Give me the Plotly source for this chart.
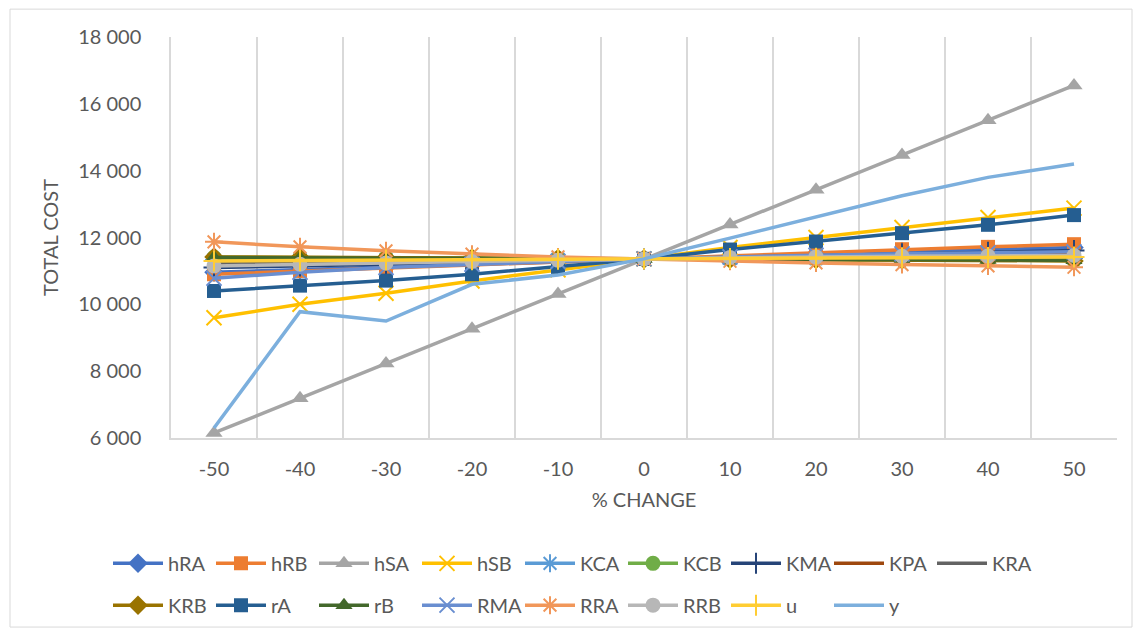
import plotly.graph_objects as go

# Sensitivity of total cost to a percentage change in each parameter
pct_change = [-50, -40, -30, -20, -10, 0, 10, 20, 30, 40, 50]

hRA = [10960, 11040, 11120, 11200, 11280, 11360, 11440, 11510, 11580, 11640, 11700]
hRB = [10900, 11000, 11100, 11180, 11270, 11360, 11460, 11560, 11650, 11720, 11800]
hSA = [6150, 7190, 8230, 9270, 10310, 11360, 12390, 13430, 14470, 15510, 16550]
hSB = [9600, 10000, 10330, 10700, 11030, 11360, 11700, 12000, 12300, 12600, 12880]
KCA = [11330, 11335, 11340, 11350, 11355, 11360, 11365, 11370, 11375, 11380, 11390]
KCB = [11410, 11400, 11390, 11380, 11370, 11360, 11350, 11340, 11330, 11320, 11310]
KMA = [11100, 11150, 11200, 11260, 11310, 11360, 11410, 11460, 11510, 11560, 11610]
KPA = [11200, 11230, 11270, 11300, 11330, 11360, 11390, 11420, 11450, 11480, 11520]
KRA = [11250, 11270, 11290, 11320, 11340, 11360, 11380, 11400, 11420, 11430, 11450]
KRB = [11420, 11410, 11400, 11385, 11370, 11360, 11350, 11340, 11325, 11315, 11300]
rA = [10400, 10560, 10710, 10900, 11120, 11360, 11640, 11880, 12130, 12380, 12670]
rB = [11400, 11390, 11385, 11375, 11365, 11360, 11355, 11345, 11340, 11330, 11320]
RMA = [10780, 10960, 11100, 11200, 11280, 11360, 11420, 11470, 11510, 11540, 11570]
RRA = [11870, 11720, 11600, 11500, 11420, 11360, 11290, 11240, 11190, 11150, 11110]
RRB = [11150, 11200, 11240, 11280, 11320, 11360, 11400, 11420, 11440, 11450, 11460]
u = [11300, 11315, 11325, 11335, 11350, 11360, 11370, 11380, 11395, 11405, 11420]
y = [6300, 9780, 9500, 10600, 10880, 11360, 11980, 12620, 13250, 13800, 14200]

y_ticks = [6000, 8000, 10000, 12000, 14000, 16000, 18000]
y_tick_text = ["6 000", "8 000", "10 000", "12 000", "14 000", "16 000", "18 000"]

# name, values, colour, marker symbol (None = plain line), filled marker?
series = [
    ("hRA", hRA, "#4472C4", "diamond", True),
    ("hRB", hRB, "#ED7D31", "square", True),
    ("hSA", hSA, "#A5A5A5", "triangle-up", True),
    ("hSB", hSB, "#FFC000", "x-thin", False),
    ("KCA", KCA, "#5B9BD5", "asterisk", False),
    ("KCB", KCB, "#70AD47", "circle", True),
    ("KMA", KMA, "#264478", "cross-thin", False),
    ("KPA", KPA, "#9E480E", None, False),
    ("KRA", KRA, "#636363", None, False),
    ("KRB", KRB, "#997300", "diamond", True),
    ("rA", rA, "#255E91", "square", True),
    ("rB", rB, "#43682B", "triangle-up", True),
    ("RMA", RMA, "#698ED0", "x-thin", False),
    ("RRA", RRA, "#F1975A", "asterisk", False),
    ("RRB", RRB, "#B7B7B7", "circle", True),
    ("u", u, "#FFCD33", "cross-thin", False),
    ("y", y, "#7CAFDD", None, False),
]

FONT = "Lato, 'Liberation Sans', sans-serif"
TEXT = "#595959"
FS = 20

fig = go.Figure()
for i, (name, vals, color, symbol, filled) in enumerate(series):
    if symbol is None:
        mode = "lines"
        marker = None
    else:
        mode = "lines+markers"
        size = 14 if symbol == "square" else 15
        marker = dict(
            symbol=symbol,
            size=size,
            color=color,
            line=dict(color=color, width=2 if not filled else 0),
        )
    fig.add_trace(go.Scatter(
        x=pct_change, y=vals, name=name, mode=mode,
        line=dict(color=color, width=3.5),
        marker=marker,
        legend="legend" if i < 9 else "legend2",
    ))

# pixel helpers for the 1140x637 canvas
L, R, T, B = 171, 1117, 37, 440
W, H = 1140, 637


def px_x(p):
    return (p - L) / (R - L)


def px_y(p):
    return (B - p) / (B - T)


grid = "#D9D9D9"
legend_common = dict(
    orientation="h", x=px_x(108), xanchor="left", yanchor="middle",
    entrywidth=38, entrywidthmode="pixels", itemwidth=50,
    font=dict(size=FS, color=TEXT), bgcolor="rgba(0,0,0,0)",
)
fig.update_layout(
    width=W, height=H,
    margin=dict(l=L, r=W - R, t=T, b=H - B),
    paper_bgcolor="white", plot_bgcolor="white",
    font=dict(family=FONT, color=TEXT, size=FS),
    xaxis=dict(
        range=[-55, 55],
        tickvals=pct_change,
        ticktext=[str(v) for v in pct_change],
        showgrid=False,
        minor=dict(tick0=-5, dtick=10, showgrid=True, gridcolor=grid, gridwidth=1.5),
        showline=True, linecolor=grid, linewidth=1.5,
        ticks="", zeroline=False, ticklabelstandoff=12,
        tickfont=dict(size=FS, color=TEXT),
        title=dict(text="% CHANGE", font=dict(size=FS, color=TEXT), standoff=14),
    ),
    yaxis=dict(
        range=[6000, 18000],
        tickvals=y_ticks, ticktext=y_tick_text,
        showgrid=False, zeroline=False,
        showline=True, linecolor=grid, linewidth=1.5,
        ticks="", ticklabelstandoff=24,
        tickfont=dict(size=FS, color=TEXT),
        title=dict(text="TOTAL COST", font=dict(size=FS, color=TEXT), standoff=14),
    ),
    legend=dict(y=px_y(566), **legend_common),
    legend2=dict(y=px_y(608), **legend_common),
    shapes=[dict(
        type="rect", xref="paper", yref="paper",
        x0=px_x(10), x1=px_x(1132), y0=px_y(630), y1=px_y(9),
        line=dict(color="#D9D9D9", width=1), fillcolor="rgba(0,0,0,0)",
        layer="below",
    )],
)

fig.write_html("out.html")
